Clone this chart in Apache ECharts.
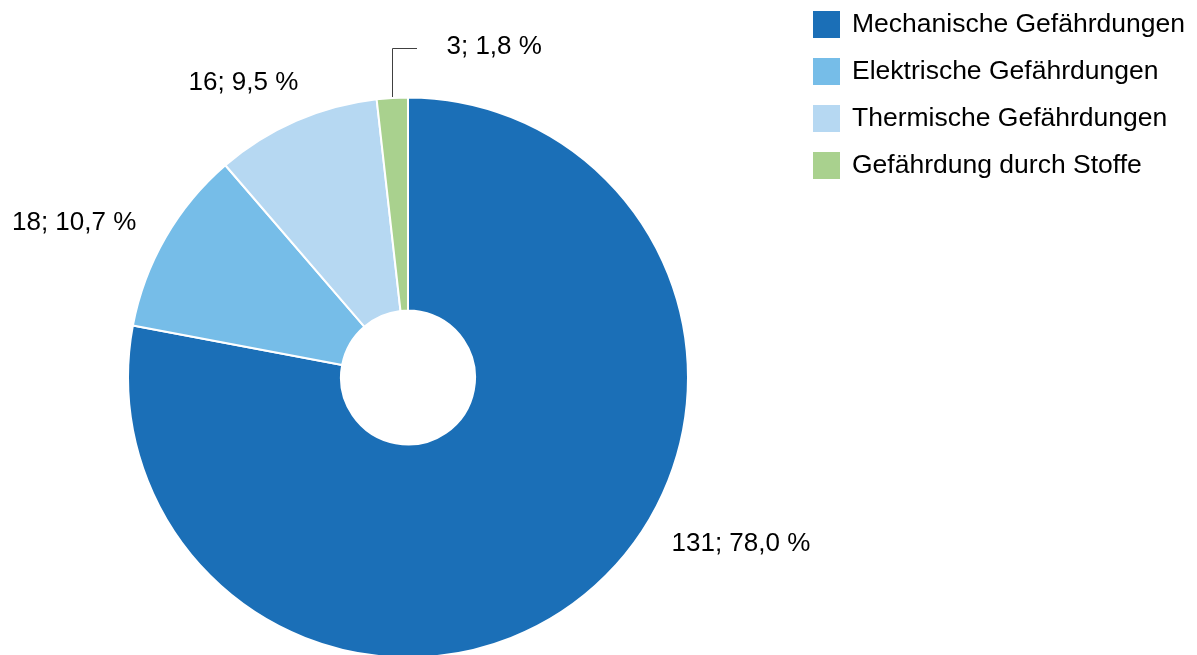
<!DOCTYPE html>
<html lang="de">
<head>
<meta charset="utf-8">
<title>Gefährdungen</title>
<script src="https://cdn.jsdelivr.net/npm/echarts@6/dist/echarts.min.js"></script>
<style>
  html, body { margin: 0; padding: 0; background: #fff; }
  #chart { width: 1197px; height: 655px; }
</style>
</head>
<body>
<div id="chart"></div>
<script>
// Kategorien und Anzahl der Gefährdungen
const categories = [
  'Mechanische Gefährdungen',
  'Elektrische Gefährdungen',
  'Thermische Gefährdungen',
  'Gefährdung durch Stoffe'
];
const counts = [131, 18, 16, 3];
const colors = ['#1b6fb7', '#76bde8', '#b6d8f2', '#a9d18e'];

// Lage der Beschriftungen (linker Rand, Mitte der Zeile)
const labelSpots = [[671.5, 544], [12, 222.5], [188.5, 83.3], [446.5, 47]];
// Führungslinie der kleinsten Scheibe: Knickhöhe und Ende
const leaderTopY = 48.5;
const leaderEndX = 417;

const FONT = '"Liberation Sans", Arial, Helvetica, sans-serif';
const total = counts.reduce((a, b) => a + b, 0);
const center = [408, 377.5];
const outerR = 280;

function pct(v) {
  return (v / total * 100).toFixed(1).replace('.', ',');
}

const chart = echarts.init(document.getElementById('chart'), null, { renderer: 'canvas' });

chart.setOption({
  animation: false,
  color: colors,
  textStyle: { fontFamily: FONT },
  legend: {
    orient: 'vertical',
    left: 813,
    top: 11,
    padding: 0,
    itemWidth: 27,
    itemHeight: 27,
    itemGap: 20,
    icon: 'rect',
    selectedMode: false,
    itemStyle: { borderWidth: 0 },
    textStyle: {
      fontFamily: FONT,
      fontSize: 26.5,
      color: '#000',
      padding: [0, 0, 0, 7]
    },
    data: categories
  },
  series: [{
    type: 'pie',
    center: center,
    radius: [67, outerR],
    startAngle: 90,
    clockwise: true,
    avoidLabelOverlap: false,
    silent: true,
    itemStyle: { borderColor: '#fff', borderWidth: 2 },
    label: {
      show: true,
      position: 'outside',
      fontFamily: FONT,
      fontSize: 26,
      color: '#000',
      formatter: p => p.value + '; ' + pct(p.value) + ' %'
    },
    labelLine: { show: false, lineStyle: { color: '#404040', width: 1 } },
    labelLayout: function (p) {
      const spot = labelSpots[p.dataIndex];
      const out = { x: spot[0], y: spot[1], align: 'left', verticalAlign: 'middle' };
      if (p.dataIndex === 3) {
        let a;
        if (p.labelLinePoints && p.labelLinePoints.length) {
          a = p.labelLinePoints[0];
        } else {
          const before = counts.slice(0, 3).reduce((s, v) => s + v, 0);
          const mid = (before + counts[3] / 2) / total * 2 * Math.PI;
          a = [center[0] + outerR * Math.sin(mid), center[1] - outerR * Math.cos(mid)];
        }
        // senkrecht nach oben, dann waagerecht zur Beschriftung; auf Pixelmitte gelegt
        const lx = Math.floor(a[0]) + 0.5;
        out.labelLinePoints = [[lx, a[1]], [lx, leaderTopY], [leaderEndX, leaderTopY]];
      }
      return out;
    },
    data: categories.map((name, i) => ({
      name: name,
      value: counts[i],
      labelLine: { show: i === 3 }
    }))
  }]
});
</script>
</body>
</html>
